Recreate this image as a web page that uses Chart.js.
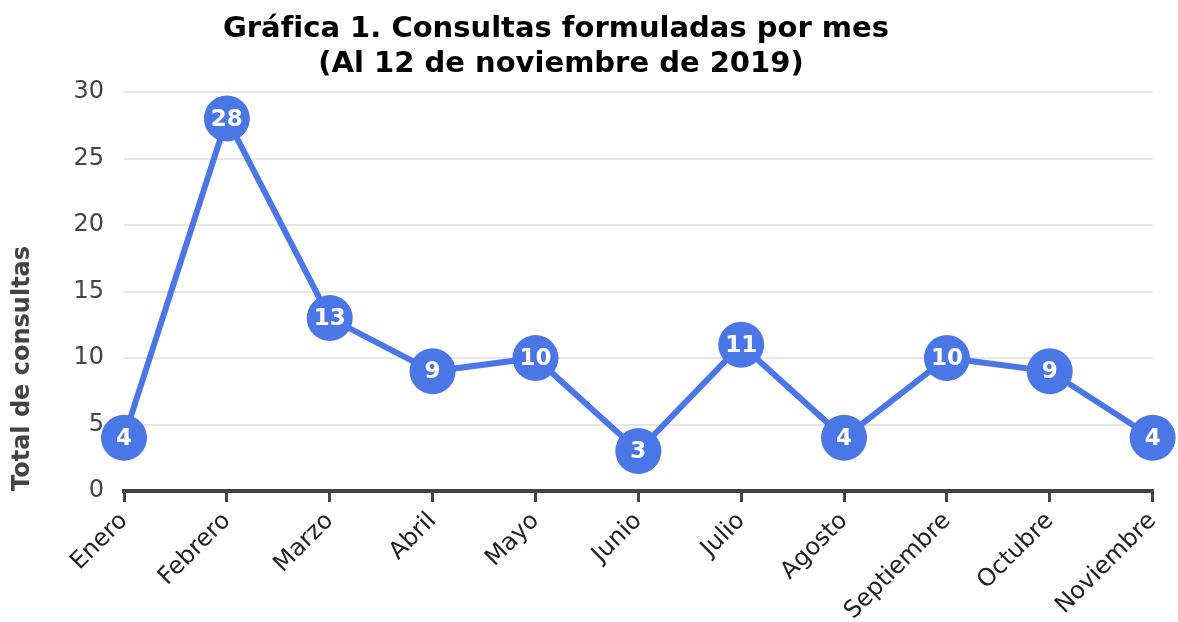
<!DOCTYPE html>
<html lang="es">
<head>
    <meta charset="UTF-8">
    <title>Consultas formuladas por mes</title>
    <script src="https://cdn.jsdelivr.net/npm/chart.js"></script>
    <style>
        body { background: #fff; margin: 0; padding: 0; }
        #wrap { width: 1178px; height: 622px; }
    </style>
</head>
<body>
<div id="wrap"><canvas id="chart"></canvas></div>
<script>
// datos
const meses = ['Enero', 'Febrero', 'Marzo', 'Abril', 'Mayo', 'Junio', 'Julio', 'Agosto', 'Septiembre', 'Octubre', 'Noviembre'];
const consultas = [4, 28, 13, 9, 10, 3, 11, 4, 10, 9, 4];
const yTicks = [0, 5, 10, 15, 20, 25, 30];
const titulo = ['Gráfica 1. Consultas formuladas por mes', '(Al 12 de noviembre de 2019)'];
const tituloEje = 'Total de consultas';

const FONT = '"DejaVu Sans", Verdana, sans-serif';
const AZUL = '#4a76e6';

// titulo en dos lineas (no centrado en el lienzo, igual que el original)
const tituloPlugin = {
    id: 'tituloPlugin',
    afterDraw(chart) {
        const ctx = chart.ctx;
        ctx.save();
        ctx.fillStyle = '#000';
        ctx.font = 'bold 29px ' + FONT;
        ctx.textAlign = 'center';
        ctx.textBaseline = 'alphabetic';
        ctx.fillText(titulo[0], 556, 37);
        ctx.fillText(titulo[1], 561, 72);
        ctx.restore();
    }
};

// valores dentro de cada punto
const etiquetas = {
    id: 'etiquetas',
    afterDatasetsDraw(chart) {
        const ctx = chart.ctx;
        const meta = chart.getDatasetMeta(0);
        ctx.save();
        ctx.fillStyle = '#fff';
        ctx.font = 'bold 23px ' + FONT;
        ctx.textAlign = 'center';
        ctx.textBaseline = 'middle';
        meta.data.forEach((pt, i) => {
            ctx.fillText(String(consultas[i]), pt.x, pt.y + 1);
        });
        ctx.restore();
    }
};

new Chart(document.getElementById('chart'), {
    type: 'line',
    data: {
        labels: meses,
        datasets: [{
            data: consultas,
            borderColor: AZUL,
            backgroundColor: AZUL,
            borderWidth: 6,
            pointRadius: 23,
            pointHoverRadius: 23,
            pointBorderWidth: 0,
            tension: 0,
            clip: false
        }]
    },
    options: {
        responsive: true,
        maintainAspectRatio: false,
        animation: false,
        layout: { padding: { top: 92, right: 21, bottom: 0, left: 0 } },
        plugins: {
            legend: { display: false },
            tooltip: { enabled: false },
            title: { display: false }
        },
        scales: {
            x: {
                offset: false,
                afterFit: s => { s.height = 131; },
                border: { display: true, color: '#444', width: 4 },
                grid: { drawOnChartArea: false, drawTicks: true, tickLength: 11, color: '#444', lineWidth: 3 },
                ticks: { autoSkip: false, minRotation: 45, maxRotation: 45, padding: 5, color: '#222', font: { family: FONT, size: 24 } }
            },
            y: {
                min: 0, max: 30,
                afterBuildTicks: s => { s.ticks = yTicks.map(v => ({ value: v })); },
                afterFit: s => { s.width = 124; },
                border: { display: false },
                grid: { color: '#e6e6e6', lineWidth: 2, drawTicks: false },
                ticks: { padding: 20, color: '#444', font: { family: FONT, size: 24 } },
                title: { display: true, text: tituloEje, align: 'start', color: '#444', padding: { top: 8, bottom: 0 }, font: { family: FONT, size: 24, weight: 'bold' } }
            }
        }
    },
    plugins: [tituloPlugin, etiquetas]
});
</script>
</body>
</html>
